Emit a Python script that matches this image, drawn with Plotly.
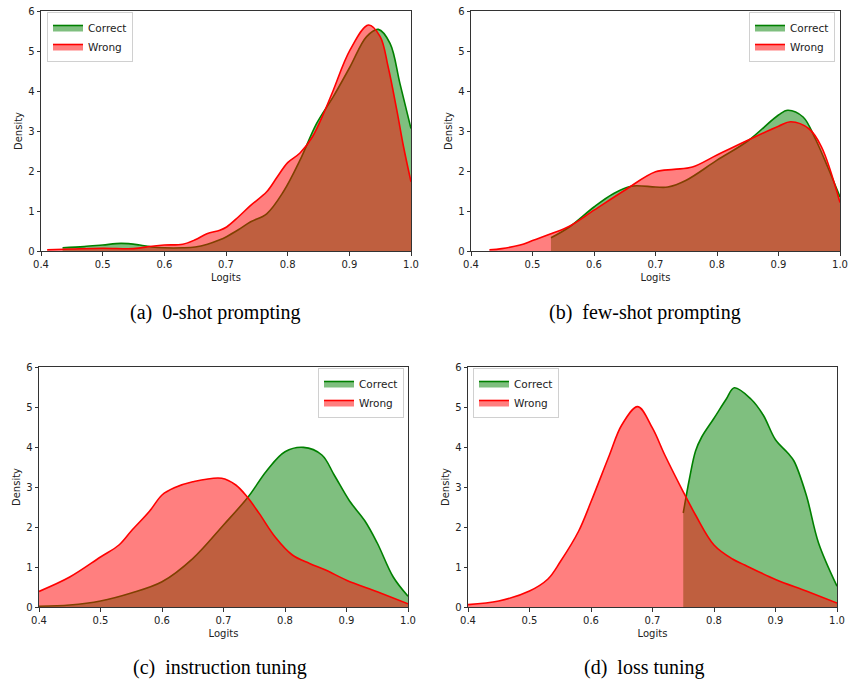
import plotly.graph_objects as go

# ---------------- data ----------------
a_correct_x = [0.435, 0.47, 0.5, 0.53, 0.56, 0.58, 0.6, 0.63, 0.65, 0.67, 0.69, 0.7, 0.72, 0.74, 0.766, 0.793, 0.82, 0.847, 0.874, 0.901, 0.928, 0.947, 0.966, 0.982, 1.0]
a_correct_y = [0.08, 0.11, 0.15, 0.19, 0.15, 0.1, 0.08, 0.08, 0.1, 0.17, 0.28, 0.35, 0.53, 0.73, 0.93, 1.48, 2.27, 3.19, 3.86, 4.6, 5.36, 5.54, 5.19, 4.19, 3.06]
a_wrong_x = [0.41, 0.45, 0.5, 0.55, 0.58, 0.6, 0.63, 0.65, 0.669, 0.69, 0.701, 0.72, 0.74, 0.766, 0.783, 0.8, 0.82, 0.84, 0.86, 0.874, 0.901, 0.931, 0.95, 0.963, 0.977, 0.988, 1.0]
a_wrong_y = [0.03, 0.05, 0.07, 0.06, 0.12, 0.15, 0.17, 0.28, 0.43, 0.52, 0.6, 0.85, 1.14, 1.48, 1.85, 2.21, 2.45, 2.85, 3.5, 4.02, 5.02, 5.65, 5.36, 4.6, 3.52, 2.6, 1.73]

b_correct_x = [0.53, 0.56, 0.6, 0.63, 0.66, 0.7, 0.72, 0.75, 0.8, 0.85, 0.9, 0.915, 0.94, 0.96, 0.98, 1.0]
b_correct_y = [0.33, 0.6, 1.1, 1.42, 1.62, 1.6, 1.6, 1.77, 2.27, 2.75, 3.4, 3.52, 3.35, 2.8, 2.1, 1.35]
b_wrong_x = [0.43, 0.45, 0.48, 0.5, 0.53, 0.56, 0.6, 0.65, 0.7, 0.73, 0.76, 0.8, 0.85, 0.9, 0.92, 0.95, 0.97, 1.0]
b_wrong_y = [0.03, 0.06, 0.15, 0.26, 0.43, 0.62, 1.02, 1.52, 1.98, 2.04, 2.1, 2.4, 2.77, 3.12, 3.23, 3.05, 2.6, 1.21]

c_correct_x = [0.4, 0.45, 0.5, 0.55, 0.6, 0.65, 0.7, 0.74, 0.77, 0.8, 0.83, 0.86, 0.88, 0.905, 0.93, 0.95, 0.976, 1.0]
c_correct_y = [0.02, 0.05, 0.15, 0.35, 0.63, 1.21, 2.05, 2.75, 3.4, 3.88, 3.99, 3.8, 3.3, 2.65, 2.15, 1.6, 0.75, 0.27]
c_wrong_x = [0.4, 0.45, 0.5, 0.53, 0.55, 0.58, 0.6, 0.62, 0.65, 0.697, 0.72, 0.738, 0.758, 0.784, 0.812, 0.84, 0.867, 0.9, 0.95, 1.0]
c_wrong_y = [0.39, 0.75, 1.25, 1.55, 1.9, 2.4, 2.8, 2.98, 3.13, 3.22, 3.05, 2.76, 2.34, 1.75, 1.3, 1.09, 0.92, 0.67, 0.38, 0.08]

d_correct_x = [0.75, 0.76, 0.77, 0.78, 0.8, 0.82, 0.833, 0.86, 0.88, 0.9, 0.92, 0.93, 0.95, 0.97, 1.0]
d_correct_y = [2.35, 3.2, 3.9, 4.25, 4.72, 5.2, 5.48, 5.2, 4.8, 4.18, 3.85, 3.65, 2.8, 1.6, 0.52]
d_wrong_x = [0.4, 0.45, 0.5, 0.53, 0.55, 0.58, 0.6, 0.63, 0.65, 0.676, 0.7, 0.72, 0.75, 0.77, 0.8, 0.83, 0.85, 0.9, 0.95, 1.0]
d_wrong_y = [0.06, 0.15, 0.4, 0.7, 1.13, 1.9, 2.63, 3.8, 4.55, 5.01, 4.47, 3.8, 2.88, 2.3, 1.55, 1.2, 1.05, 0.69, 0.4, 0.1]

series_names = ["Correct", "Wrong"]
captions = ["(a)\u00a0\u00a00-shot prompting", "(b)\u00a0\u00a0few-shot prompting",
            "(c)\u00a0\u00a0instruction tuning", "(d)\u00a0\u00a0loss tuning"]
x_ticks = [0.4, 0.5, 0.6, 0.7, 0.8, 0.9, 1.0]
x_tick_labels = ["0.4", "0.5", "0.6", "0.7", "0.8", "0.9", "1.0"]
y_ticks = [0, 1, 2, 3, 4, 5, 6]

panels = [
    (a_correct_x, a_correct_y, a_wrong_x, a_wrong_y),
    (b_correct_x, b_correct_y, b_wrong_x, b_wrong_y),
    (c_correct_x, c_correct_y, c_wrong_x, c_wrong_y),
    (d_correct_x, d_correct_y, d_wrong_x, d_wrong_y),
]

# ---------------- layout geometry ----------------
W, H = 849, 683
boxes = [  # left, right, top, bottom in pixels
    (41, 411, 11, 251),
    (471, 840, 11, 251),
    (39, 408, 367, 607),
    (468, 837, 367, 607),
]
legend_pos = [  # x, y, xanchor
    (47, 12, "left"),
    (835, 12, "right"),
    (404, 368, "right"),
    (473, 368, "left"),
]
caption_pos = [(216, 313), (645, 313), (220, 667), (644, 667)]

GREEN = "green"
RED = "red"
GREEN_FILL = "rgba(0,128,0,0.5)"
RED_FILL = "rgba(255,0,0,0.5)"

fig = go.Figure()
tick_font = dict(family="DejaVu Sans", size=10, color="#222")

for i, (cx, cy, wx, wy) in enumerate(panels):
    sfx = "" if i == 0 else str(i + 1)
    leg = "legend" if i == 0 else f"legend{i + 1}"
    fig.add_trace(go.Scatter(x=cx, y=cy, mode="lines", name=series_names[0],
                             line=dict(color=GREEN, width=1.6, shape="spline", smoothing=1.0),
                             fill="tozeroy", fillcolor=GREEN_FILL,
                             xaxis="x" + sfx, yaxis="y" + sfx, legend=leg))
    fig.add_trace(go.Scatter(x=wx, y=wy, mode="lines", name=series_names[1],
                             line=dict(color=RED, width=1.6, shape="spline", smoothing=1.0),
                             fill="tozeroy", fillcolor=RED_FILL,
                             xaxis="x" + sfx, yaxis="y" + sfx, legend=leg))

    l, r, t, b = boxes[i]
    axis_common = dict(showline=True, linecolor="#333", linewidth=1, mirror=True,
                       ticks="outside", ticklen=3.5, tickwidth=0.8, tickcolor="#333",
                       showgrid=False, zeroline=False, tickfont=tick_font, automargin=False)
    fig.update_layout(**{
        "xaxis" + sfx: dict(domain=[l / W, r / W], range=[0.4, 1.0], anchor="y" + sfx,
                            tickvals=x_ticks, ticktext=x_tick_labels,
                            title=dict(text="Logits", font=dict(family="DejaVu Sans", size=10, color="#222"),
                                       standoff=5),
                            **axis_common),
        "yaxis" + sfx: dict(domain=[1 - b / H, 1 - t / H], range=[0, 6], anchor="x" + sfx,
                            tickvals=y_ticks,
                            title=dict(text="Density", font=dict(family="DejaVu Sans", size=10, color="#222"),
                                       standoff=3),
                            **axis_common),
    })
    lx, ly, xa = legend_pos[i]
    fig.update_layout(**{
        leg: dict(x=lx / W, y=1 - ly / H, xanchor=xa, yanchor="top",
                  xref="paper", yref="paper",
                  bgcolor="rgba(255,255,255,0.85)", bordercolor="#d0d0d0", borderwidth=1,
                  font=dict(family="DejaVu Sans", size=10.5, color="#222"),
                  itemwidth=30, tracegroupgap=0)
    })
    cx_, cy_ = caption_pos[i]
    fig.add_annotation(text=captions[i], x=cx_ / W, y=1 - cy_ / H, xref="paper", yref="paper",
                       xanchor="center", yanchor="middle", showarrow=False,
                       font=dict(family="Liberation Serif", size=20, color="black"))

fig.update_layout(width=W, height=H, margin=dict(l=0, r=0, t=0, b=0, autoexpand=False),
                  plot_bgcolor="white", paper_bgcolor="white", showlegend=True)

fig.write_html("out.html", config={"displayModeBar": False},
               post_script="document.body.style.margin='0';document.body.style.overflow='hidden';")
